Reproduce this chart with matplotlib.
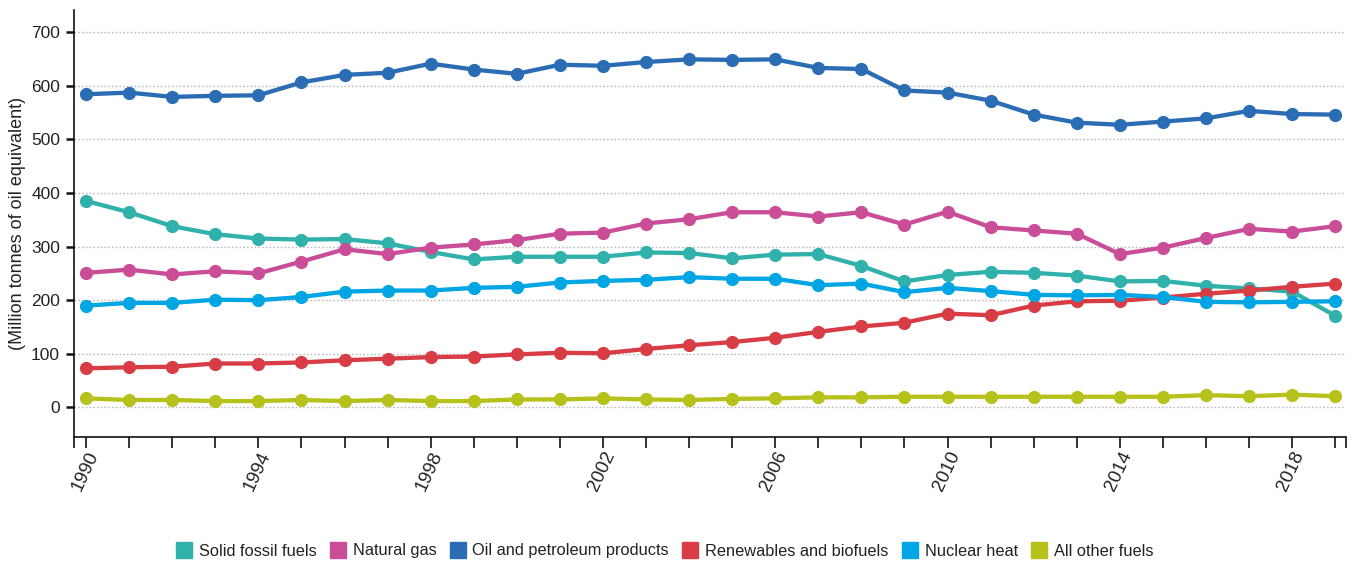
import matplotlib
matplotlib.use("Agg")
import matplotlib.pyplot as plt
from matplotlib.lines import Line2D

plt.rcParams['font.family'] = ['Liberation Sans', 'DejaVu Sans']

years = list(range(1990, 2020))

solid_fossil = [385, 364, 338, 323, 315, 313, 314, 306, 290, 276,
                281, 281, 281, 289, 288, 278, 285, 286, 264, 235,
                247, 253, 251, 246, 235, 236, 227, 222, 216, 171]
natural_gas = [251, 257, 248, 254, 250, 272, 295, 286, 298, 304,
               312, 324, 326, 343, 351, 364, 364, 356, 364, 341,
               365, 336, 330, 324, 286, 298, 316, 333, 328, 338]
oil = [584, 587, 579, 581, 582, 606, 620, 624, 641, 630,
       622, 639, 637, 644, 649, 648, 649, 633, 631, 591,
       587, 572, 546, 531, 527, 533, 539, 553, 547, 546]
renewables = [73, 75, 76, 82, 82, 84, 88, 91, 94, 95,
              99, 102, 101, 109, 116, 122, 130, 141, 151, 158,
              175, 172, 190, 198, 199, 205, 212, 218, 225, 231]
nuclear = [190, 195, 195, 201, 200, 206, 216, 218, 218, 223,
           225, 233, 236, 238, 243, 240, 240, 228, 231, 215,
           223, 217, 210, 209, 210, 206, 197, 196, 197, 198]
other_fuels = [17, 14, 14, 12, 12, 14, 12, 14, 12, 12,
               15, 15, 17, 15, 14, 16, 17, 19, 19, 20,
               20, 20, 20, 20, 20, 20, 23, 21, 24, 21]

labels = ["Solid fossil fuels", "Natural gas", "Oil and petroleum products",
          "Renewables and biofuels", "Nuclear heat", "All other fuels"]
colors = ["#31b1ab", "#c94e97", "#2b6db4", "#d83c44", "#00a5e3", "#b6c21b"]
series = [solid_fossil, natural_gas, oil, renewables, nuclear, other_fuels]
text_col = "#222222"

fig = plt.figure(figsize=(13.6, 5.63), dpi=100)
ax = fig.add_axes([74 / 1360, 126 / 563, (1346 - 74) / 1360, (437 - 10) / 563])

# dotted grid lines
for v in range(0, 800, 100):
    ax.axhline(v, color="#bbbbbb", lw=1, ls=(0, (1.2, 1.5)), zorder=0)

for vals, col in zip(series, colors):
    ax.plot(years, vals, color=col, lw=3.1, marker="o", markersize=8.5,
            solid_capstyle="round", zorder=3)

ax.set_xlim(1989.72, 2019.25)
ax.set_ylim(-55, 741)

ax.set_yticks(range(0, 800, 100))
ax.tick_params(axis="y", length=6, width=1.8, color="#111111", pad=4,
               labelsize=12.5, labelcolor=text_col)

ax.set_xticks(years)
ax.set_xticklabels([str(y) if (y - 1990) % 4 == 0 else "" for y in years],
                   rotation=65, ha="right", va="top", rotation_mode="anchor")
ax.set_xticks([1989.72, 2019.25], minor=True)
ax.tick_params(axis="x", which="both", length=8, width=1.2, color="#111111",
               pad=0.5, labelsize=13.5, labelcolor=text_col)

for s in ["top", "right"]:
    ax.spines[s].set_visible(False)
for s in ["left", "bottom"]:
    ax.spines[s].set_color("#111111")
    ax.spines[s].set_linewidth(1.2)

ax.set_ylabel("(Million tonnes of oil equivalent)", fontsize=13, color=text_col)
ax.yaxis.set_label_coords(-0.0375, 0.5)

handles = [Line2D([], [], ls="none", marker="s", markersize=11,
                  markerfacecolor=c, markeredgecolor=c) for c in colors]
fig.legend(handles, labels, loc="center", bbox_to_anchor=(665 / 1360, 1 - 551 / 563),
           ncol=6, frameon=False, fontsize=11.8, handlelength=0.9, handletextpad=0.45,
           columnspacing=0.85, labelcolor=text_col)

fig.savefig("out.png", dpi=100)
